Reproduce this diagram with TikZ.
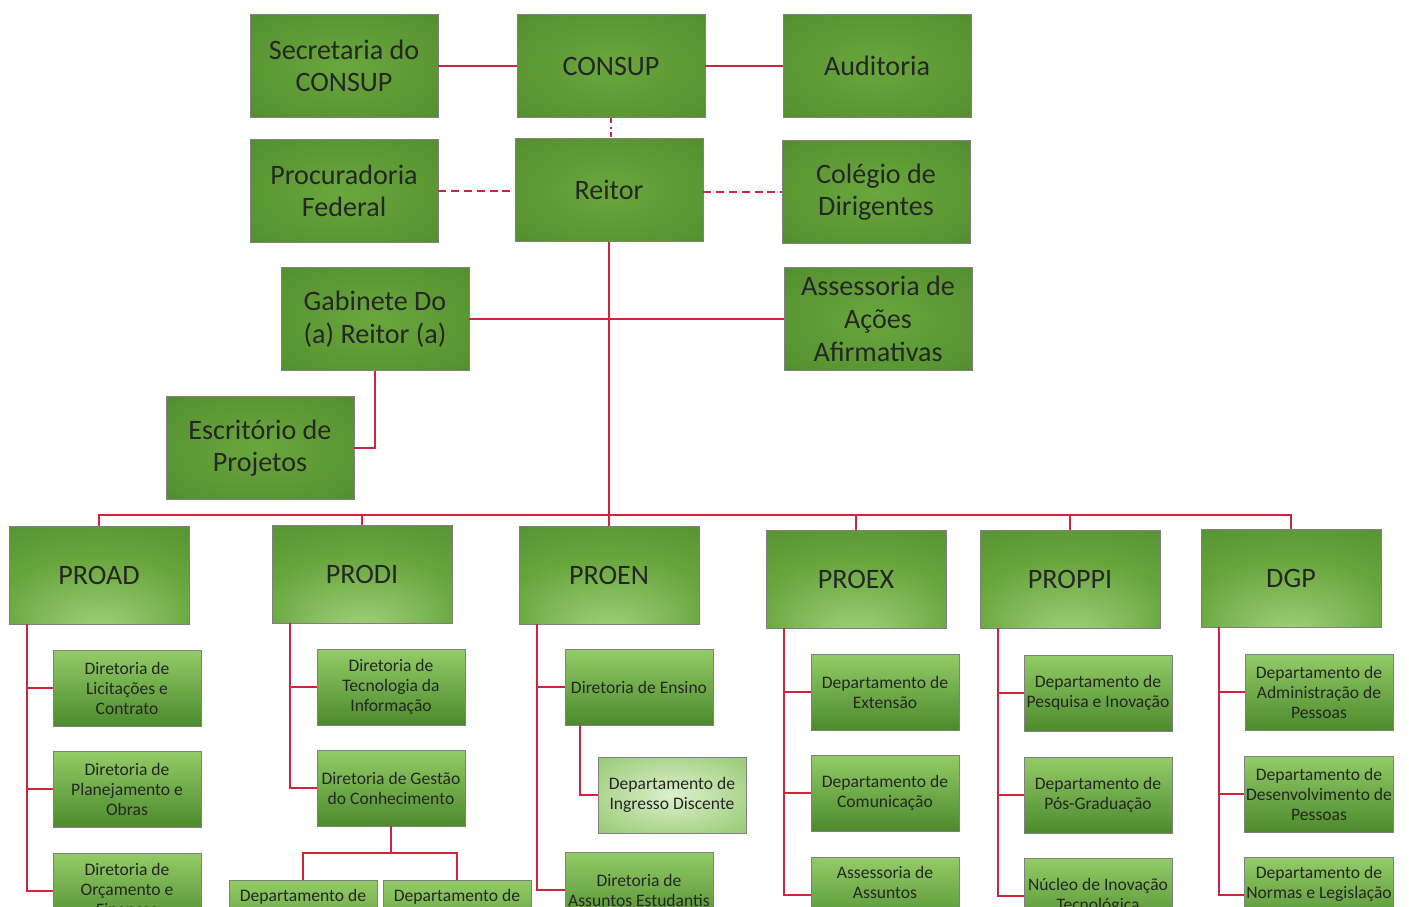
\documentclass[tikz,border=0pt]{standalone}
\usepackage[usenames,dvipsnames,svgnames,table,rgb]{xcolor}
\usepackage{tikz}
\usepackage{fontspec}
\setmainfont{Carlito}

\definecolor{linha}{HTML}{D2233C}
\definecolor{tLight}{HTML}{69A73D}
\definecolor{tMid}{HTML}{579331}
\definecolor{tDark}{HTML}{3E7622}
\definecolor{gLight}{HTML}{A2D27E}
\definecolor{gMid}{HTML}{67A53C}
\definecolor{gDark}{HTML}{3F7623}
\definecolor{sTop}{HTML}{93CC67}
\definecolor{sBot}{HTML}{4C8A2D}
\definecolor{iLight}{HTML}{DDF0CD}
\definecolor{iDark}{HTML}{84BF5A}

\pgfdeclareradialshading{topglow}{\pgfpoint{0bp}{0bp}}{color(0bp)=(tLight); color(30bp)=(tMid); color(62bp)=(tDark)}
\pgfdeclareradialshading{proglow}{\pgfpoint{0bp}{-30bp}}{color(0bp)=(gLight); color(28bp)=(gMid); color(70bp)=(gDark)}
\pgfdeclareradialshading{ingglow}{\pgfpoint{0bp}{0bp}}{color(0bp)=(iLight); color(45bp)=(iDark); color(60bp)=(iDark)}

\begin{document}
\begin{tikzpicture}[x=0.02cm, y=-0.02cm,
		topbox/.style={draw=black!50, line width=0.4pt, shade, shading=topglow, minimum width=3.76cm, minimum height=2.06cm, inner sep=1pt, align=center, text=black!85, font=\fontsize{16}{18.6}\selectfont},
		probox/.style={topbox, shading=proglow, minimum width=3.6cm, minimum height=1.96cm},
		subbox/.style={draw=black!50, line width=0.4pt, top color=sTop, bottom color=sBot, minimum width=2.96cm, minimum height=1.52cm, inner sep=1pt, align=center, text=black!85, font=\fontsize{10}{11.4}\selectfont},
		ligacao/.style={draw=linha, line width=1.1pt}]
		\useasboundingbox (0,0) rectangle (1409,906);
		\clip (0,0) rectangle (1409,906);
		
		\node[topbox] (sec) at (344,66) {Secretaria do\\CONSUP};
		\node[topbox] (consup) at (611,66) {CONSUP};
		\node[topbox] (aud) at (877,66) {Auditoria};
		\node[topbox] (proc) at (344,191) {Procuradoria\\Federal};
		\node[topbox] (reitor) at (609,190) {Reitor};
		\node[topbox] (coleg) at (876,192) {Colégio de\\Dirigentes};
		\node[topbox] (gab) at (375,319) {Gabinete Do\\(a) Reitor (a)};
		\node[topbox] (aaa) at (878,319) {Assessoria de\\Ações\\Afirmativas};
		\node[topbox] (esc) at (260,448) {Escritório de\\Projetos};
		
		\node[probox] (proad) at (99,575) {PROAD};
		\node[probox] (prodi) at (362,574) {PRODI};
		\node[probox] (proen) at (609,575) {PROEN};
		\node[probox] (proex) at (856,579) {PROEX};
		\node[probox] (proppi) at (1070,579) {PROPPI};
		\node[probox] (dgp) at (1291,578) {DGP};
		
		\node[subbox] (proad_lic) at (127,688) {Diretoria de\\Licitações e\\Contrato};
		\node[subbox] (proad_plan) at (127,789) {Diretoria de\\Planejamento e\\Obras};
		\node[subbox] (proad_orc) at (127,891) {Diretoria de\\Orçamento e\\Finanças};
		
		\node[subbox] (prodi_ti) at (391,687) {Diretoria de\\Tecnologia da\\Informação};
		\node[subbox] (prodi_gc) at (391,788) {Diretoria de Gestão\\do Conhecimento};
		\node[subbox] (prodi_dep1) at (303,918) {Departamento de\\\strut\\\strut};
		\node[subbox] (prodi_dep2) at (457,918) {Departamento de\\\strut\\\strut};
		
		\node[subbox] (proen_ens) at (639,687) {Diretoria de Ensino};
		\node[subbox, shading=ingglow] (proen_ing) at (672,795) {Departamento de\\Ingresso Discente};
		\node[subbox] (proen_ae) at (639,890) {Diretoria de\\Assuntos Estudantis};
		
		\node[subbox] (proex_ext) at (885,692) {Departamento de\\Extensão};
		\node[subbox] (proex_com) at (885,793) {Departamento de\\Comunicação};
		\node[subbox] (proex_aa) at (885,895) {Assessoria de\\Assuntos\\\strut};
		
		\node[subbox] (proppi_pi) at (1098,693) {Departamento de\\Pesquisa e Inovação};
		\node[subbox] (proppi_pg) at (1098,795) {Departamento de\\Pós-Graduação};
		\node[subbox] (proppi_nit) at (1098,896) {Núcleo de Inovação\\Tecnológica};
		
		\node[subbox] (dgp_adm) at (1319,692) {Departamento de\\Administração de\\Pessoas};
		\node[subbox] (dgp_des) at (1319,794) {Departamento de\\Desenvolvimento de\\Pessoas};
		\node[subbox] (dgp_nor) at (1319,895) {Departamento de\\Normas e Legislação\\\strut};
		
		\coordinate (bus) at (0,515);
		\coordinate (gcbus) at (391,853);
		
		\draw[ligacao] (sec.east) -- (consup.west);
		\draw[ligacao] (consup.east) -- (aud.west);
		\draw[ligacao, dash dot] (consup.south) -- (consup.south |- reitor.north);
		\draw[ligacao, dash pattern=on 4.5pt off 2.8pt] (proc.east) -- (proc.east -| reitor.west);
		\draw[ligacao, dash pattern=on 4.5pt off 2.8pt] (reitor.east |- coleg.west) -- (coleg.west);
		\draw[ligacao] (reitor.south) -- (proen.north);
		\draw[ligacao] (gab.east) -- (aaa.west);
		\draw[ligacao] (gab.south) |- (esc.east);
		
		\draw[ligacao] (proad.north) |- (dgp.north |- bus) -- (dgp.north);
		\foreach \p in {prodi,proex,proppi}
			\draw[ligacao] (\p.north) -- (\p.north |- bus);
		
		\foreach \p/\c in {proad/proad_lic, proad/proad_plan, proad/proad_orc, prodi/prodi_ti, prodi/prodi_gc, proen/proen_ens, proen/proen_ae, proex/proex_ext, proex/proex_com, proex/proex_aa, proppi/proppi_pi, proppi/proppi_pg, proppi/proppi_nit, dgp/dgp_adm, dgp/dgp_des, dgp/dgp_nor}
			\draw[ligacao] ([xshift=0.36cm]\p.south west) |- (\c.west);
		
		\draw[ligacao] ([xshift=0.3cm]proen_ens.south west) |- (proen_ing.west);
		\draw[ligacao] (prodi_gc.south) -- (gcbus);
		\draw[ligacao] (prodi_dep1.north) |- (prodi_dep2.north |- gcbus) -- (prodi_dep2.north);
	\end{tikzpicture}
\end{document}
